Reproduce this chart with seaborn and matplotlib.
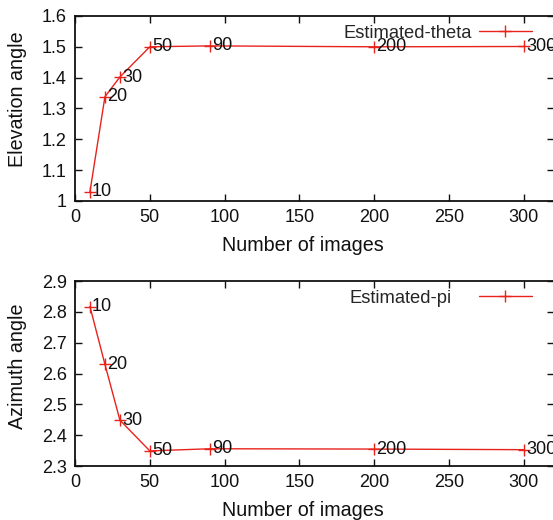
import numpy as np
import pandas as pd
import matplotlib
matplotlib.use("Agg")
import matplotlib.pyplot as plt
import seaborn as sns
from matplotlib.ticker import MultipleLocator, FormatStrFormatter

# -------------------------
# Data
# -------------------------
n_images = [10, 20, 30, 50, 90, 200, 300]
elevation = [1.03, 1.338, 1.402, 1.500, 1.503, 1.500, 1.501]
azimuth = [2.817, 2.630, 2.449, 2.349, 2.356, 2.355, 2.353]
point_labels = ["10", "20", "30", "50", "90", "200", "300"]

# -------------------------
# Style
# -------------------------
sns.set_theme(style="ticks")
plt.rcParams["font.family"] = ["Liberation Sans", "DejaVu Sans"]
plt.rcParams["font.size"] = 13
red = "#e8231c"
ink = "#111111"

fig = plt.figure(figsize=(5.53, 5.2), dpi=100)
ax_top = fig.add_axes([0.1356, 0.6135, 0.866, 0.3558])
ax_bot = fig.add_axes([0.1356, 0.1038, 0.866, 0.3558])

panels = [
    (ax_top, elevation, "Estimated-theta", "Elevation angle", (1.0, 1.6), 0.35, 0.549, -0.238),
    (ax_bot, azimuth, "Estimated-pi", "Azimuth angle", (2.3, 2.9), 1.45, 0.538, -0.243),
]

for ax, values, name, ylab, ylim, textpad, ylab_y, xlab_y in panels:
    df = pd.DataFrame({"n": n_images, "v": values})
    sns.lineplot(data=df, x="n", y="v", ax=ax, color=red, lw=1.0,
                 marker="+", markersize=8, markeredgewidth=1.0,
                 markeredgecolor=red, label=name)

    # point annotations (number of images next to each marker)
    for xv, yv, lab in zip(n_images, values, point_labels):
        ax.annotate(lab, (xv, yv), xytext=(1.5, 0), textcoords="offset points",
                    ha="left", va="center", fontsize=13, color=ink,
                    annotation_clip=False, clip_on=False)

    ax.set_xlim(0, 320)
    ax.set_ylim(*ylim)
    ax.xaxis.set_major_locator(MultipleLocator(50))
    ax.yaxis.set_major_locator(MultipleLocator(0.1))
    ax.yaxis.set_major_formatter(FormatStrFormatter("%g"))
    ax.tick_params(direction="in", length=5, width=1, top=True, right=True,
                   pad=6, labelsize=13, colors=ink)
    for sp in ax.spines.values():
        sp.set_visible(True)
        sp.set_linewidth(1.3)
        sp.set_color(ink)

    ax.set_xlabel("Number of images", fontsize=14.2, color=ink)
    ax.set_ylabel(ylab, fontsize=14.2, color=ink)
    ax.xaxis.set_label_coords(0.476, xlab_y)
    ax.xaxis.label.set_va("center")
    ax.yaxis.set_label_coords(-0.119, ylab_y)
    ax.yaxis.label.set_va("center")

    ax.legend(loc="center right", bbox_to_anchor=(0.954, 0.907), frameon=False,
              markerfirst=False, handlelength=2.9, handletextpad=textpad,
              borderpad=0, borderaxespad=0, fontsize=13.2)

fig.savefig("out.png", dpi=100)
plt.close(fig)
